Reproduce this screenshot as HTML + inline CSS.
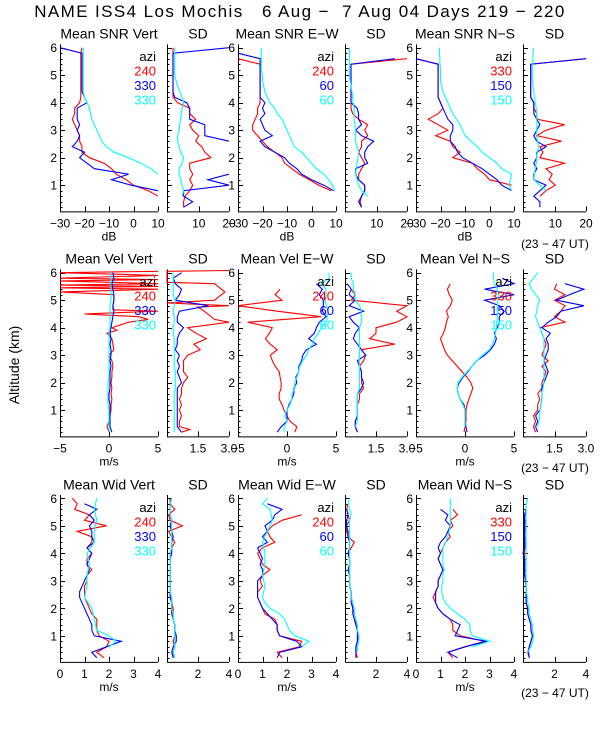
<!DOCTYPE html>
<html><head><meta charset="utf-8">
<style>
html,body{margin:0;padding:0;background:#fff;}
svg{display:block;font-family:"Liberation Sans",sans-serif;}
</style></head>
<body>
<svg id="chart" width="600" height="750" viewBox="0 0 600 750" xmlns="http://www.w3.org/2000/svg">
<rect x="0" y="0" width="600" height="750" fill="#fff"/>
<text x="300" y="17" font-size="17" letter-spacing="1.4" text-anchor="middle" xml:space="preserve">NAME ISS4 Los Mochis   6 Aug −  7 Aug 04 Days 219 − 220</text>
<text transform="translate(19,365) rotate(-90)" font-size="14" text-anchor="middle">Altitude (km)</text>
</svg>
<script>
const n = null;
const ALT = [0.2,0.4,0.6,0.8,1.0,1.2,1.4,1.6,1.8,2.0,2.2,2.4,2.6,2.8,3.0,3.2,3.4,3.6,3.8,4.0,4.2,4.4,4.6,4.8,5.0,5.2,5.4,5.6,5.8,6.0];

// Row 1: SNR
const snrVertRed  = [n,n,10,6,0,-3,-7,-9,-12,-18,-21,-21,-22,-22,-23,-24,-25,-24,-24,-22,-21.5,-21.5,-21.5,-21.5,-21.5,-21.5,-21.5,-21.5,-21.5,-21];
const snrVertBlue = [n,n,n,10,-1,-9,-2,-16,-19,-22,-20,-25,-23,-22,-23,-22,-23,-23,-23,-19,-20,-21,-21,-21,-21,-21,-21,-21,-21,-30];
const snrVertCyan = [n,n,n,n,n,n,10,7,3,-2,-8,-11,-13,-14,-15,-16,-17,-17.5,-18,-19,-20,-20.5,-20.5,-20.5,-20.5,-20.5,-20.5,-20.5,-20.5,-20.5];
const sdSnrVertRed  = [5,5,5.5,7,8,7,8,7,7,14,12,11,9,10,8,7,9,7,7,3,1.5,1.5,1.5,1.5,1.5,1.5,1.5,1.5,1.5,1.5];
const sdSnrVertBlue = [5,8,5,5,20,13,20,n,n,n,n,n,20,12,12,12,7,7,7,6,2,1.5,1.5,1.5,1.5,1.5,1.5,1.5,1.5,20];
const sdSnrVertCyan = [n,n,4.5,5,4.5,4,3.5,3.5,4.5,5,4,3.5,3,3,3.5,3.7,4,4.2,4.5,5,4.5,3.8,3,2.5,2,2,2,2,2,2];
const snrEwRed  = [n,n,n,8,3,-1,-5,-8,-11,-12,-15,-18,-20,-22,-24,-24,-23,-22,-22,-21,-21,-21,-21,-21,-21,-21,-21,-30,n,n];
const snrEwBlue = [n,n,n,9,5,0,-4,-6,-9,-11,-15,-19,-21,-16,-19,-20,-21,-19,-20,-19,-21,-21,-21,-21,-21,-21,-21,-21,-30,n];
const snrEwCyan = [n,n,n,9.5,8.5,7,5,2,0,-2,-4,-7,-8,-9,-10,-11,-12,-14,-15,-17,-18,-19,-19.5,-20,-20,-20.5,-20.5,-20.5,-20.5,-20.5];
const sdSnrEwRed  = [5,4.5,5,6,6,4,4,5,6,5,4,5,5,7,6,7,4,2,1.5,1.5,1.5,1.5,1.5,1.5,1.5,1.5,1.5,20,n,n];
const sdSnrEwBlue = [5,4,5,6,6,4,3,3,7,6,6,7,9,5,3,5,4,4,3.5,1.5,1.5,1.5,1.5,1.5,1.5,1.5,1.5,16,n,n];
const sdSnrEwCyan = [n,n,7,5,4,3.5,3,3.2,3.5,3.8,4,3.5,3,3,3,2.8,2.5,2.5,2.5,2.2,2,1.8,1.5,1.2,1,1,1,1,1,1];
const snrNsRed  = [n,n,n,n,9,0,-2,-5,-7,-15,-12,-15,-16,-22,-17,-21,-25,-21,-19,-20,-21,-21,-21,-21,-21,-21,-21,-30,n,n];
const snrNsBlue = [n,n,n,9,5,3,0,-3,-7,-11,-13,-14,-16,-16,-15,-15,-17,-18,-19,-20,-21,-21,-21,-21,-21,-21,-21,-30,n,n];
const snrNsCyan = [n,n,n,9,8,8.5,9,5,3,0,-3,-5,-7.5,-10,-11,-12,-13.5,-15,-16,-17,-18,-19,-19.5,-20,-20,-20,-20.2,-20.3,-20.4,-20.5];
const sdSnrNsRed  = [n,n,5,7,10,8,9,7,13,5,6,5,12,4,7,13,4,4,3,3,2,2,2,2,2,2,2,20,n,n];
const sdSnrNsBlue = [5,5,3,5,7,3,3,4,3,4,4,7,4,3,4,5,4,3,3,3,2,2,2,2,2,2,2,20,n,n];
const sdSnrNsCyan = [n,n,n,7,5,3,3.2,3.5,3.8,4,4.2,4.5,4.2,4,4,4,4,4,3.8,3.5,3.2,3,2.8,2.6,2.5,2.5,2.6,2.7,2.8,3];

// Row 2: velocity
const velVertRedAlt = [0.2,0.4,0.6,0.8,1.0,1.2,1.4,1.6,1.8,2.0,2.2,2.4,2.6,2.8,3.0,3.2,3.4,3.6,3.8,3.9,4.0,4.2,4.3,4.4,4.5,4.6,4.65,4.8,5.0,5.2,5.3,5.4,5.45,5.5,5.55,5.6,5.7,5.75,5.8,5.9,6.0,6.05];
const velVertRed = [0,-0.2,0,0.1,0.2,0.2,0.3,0.2,0.3,0.2,0.3,0.3,0.4,0.3,0,0.5,0.4,0.3,-0.2,0.8,0.3,2,4,3,-2.5,5,0.4,0.4,0.5,0.5,-5,5,-5,5,-5,5,-5,5,-5,5,-5,5];
const velVertBlue = [0.3,0.1,0.1,0.1,0.1,0.1,0,0,0.1,0.1,0.1,0.1,0.2,0.1,0.2,0.2,0.1,0.2,0.1,0.2,0.3,0.4,0.5,0.4,0.5,0.5,0.4,0.3,0.5,0.4];
const velVertCyan = [0,0,0,0,0,-0.1,-0.1,-0.1,-0.1,-0.1,0,0,0,0,0,0,0,0,0,0.1,0.1,0.1,0.1,0.1,0.2,0.2,0.2,0.2,0.2,0.1];
const sdVelVertRedAlt = [0.2,0.3,0.4,0.6,0.8,1.0,1.2,1.4,1.6,1.8,2.0,2.2,2.4,2.6,2.8,3.0,3.2,3.4,3.6,3.8,4.0,4.2,4.3,4.6,4.75,4.8,4.9,5.0,5.3,5.6,5.65,6.05,6.08];
const sdVelVertRed = [0.7,1.1,0.6,0.6,0.7,0.6,0.7,0.6,0.7,0.7,0.8,1.0,0.8,0.8,0.8,1.0,1.6,1.3,1.9,1.4,1.0,3,2.3,1.8,1.5,3,0,2.3,2.8,2.3,0,0,3];
const sdVelVertBlue = [0.7,0.5,0.5,0.5,0.5,0.5,0.5,0.5,0.5,0.7,0.6,0.5,0.6,0.5,0.6,0.4,0.5,0.5,0.6,0.8,0.5,0.5,0.6,2,0.4,0.6,0.7,0.4,0.3,0.7];
const sdVelVertCyan = [0.35,0.35,0.35,0.35,0.35,0.35,0.35,0.35,0.4,0.4,0.4,0.4,0.35,0.35,0.35,0.35,0.35,0.35,0.3,0.3,0.35,0.35,0.3,0.35,0.4,0.3,0.3,0.3,0.3,0.3];
const velEwRed  = [0.8,1.0,0.3,0,-0.3,-0.5,-0.8,-0.8,-0.6,-0.6,-0.7,-0.8,-1.2,-1.5,-1.7,-1.0,-1.7,-2.2,-1.8,-1.5,-4,3.5,-1,-5,-0.5,-1.2,-0.7,n,n,n];
const velEwBlue = [-1.0,-0.6,0,0,0,0.2,0.5,0.7,0.7,1.0,0.9,1.2,1.2,1.5,1.6,2,3.0,2.2,2.8,3.0,3.3,4,3.6,3.7,3.7,3.3,3.6,3.0,n,n];
const velEwCyan = [-0.3,-0.3,0,-0.2,0,0.3,0.5,0.5,0.8,0.8,1.0,1.2,1.3,1.6,2,2.2,2.6,2.8,3.2,3.5,4,4.1,4.2,4.0,3.9,4.0,4.0,3.5,4.3,4.3];
const sdVelEwRed  = [0.6,0.5,0.5,0.6,0.6,0.6,0.7,0.7,0.9,0.8,0.8,0.8,0.7,0.9,1.0,0.8,2.4,1.2,1.5,1.5,2.5,3.0,2.5,3.0,0.3,0.5,0.3,n,n,n];
const sdVelEwBlue = [0.6,0.5,0.5,0.6,0.6,0.6,0.6,0.6,0.8,0.9,0.8,0.8,0.7,0.6,1.0,0.8,0.6,0.4,0.5,0.7,0.4,0.2,0.9,0.2,0.5,0.2,0.3,0.1,n,n];
const sdVelEwCyan = [n,0.5,0.6,0.6,0.6,0.6,0.6,0.6,0.7,0.7,0.7,0.7,0.7,0.7,0.7,0.7,0.7,0.7,0.7,0.7,0.8,0.8,0.8,0.7,0.5,0.5,0.4,0.4,0.3,0.3];
const velNsRed  = [-0.1,0,0.1,0.1,0.1,0.2,0.4,0.6,0.8,0.6,0.2,-0.3,-0.8,-1.3,-1.8,-2.1,-2.3,-2.5,-2.2,-2.0,-1.9,-1.7,-1.9,-1.5,-1.3,-1.6,-1.8,-1.5,n,n];
const velNsBlue = [0.2,0.1,0,0,0,-0.1,-0.5,-0.7,-0.8,-0.6,-0.2,0.3,0.7,1.2,2,2.6,3.0,3.2,3.0,3.3,3.5,3.5,4.0,3.5,2,5,2,5,3.8,n];
const velNsCyan = [n,0,0,0,0,-0.2,-0.5,-0.7,-0.8,-0.7,-0.3,0.2,0.7,1.2,1.8,2.5,2.8,3,3.1,3.2,3.25,3.3,3.3,3.3,3.35,3.4,3.3,3.0,2.9,2.9];
const sdVelNsRed  = [0.6,0.5,0.6,0.5,0.7,0.7,0.8,0.7,0.9,0.9,1.0,1.1,0.9,1.2,0.9,1.0,1.1,1.0,0.9,0.8,2.0,1.5,1.8,2.0,1.5,2.0,1.5,1.6,n,n];
const sdVelNsBlue = [0.7,0.6,0.7,0.6,0.8,0.85,0.9,0.9,0.9,1.0,1.1,1.2,1.1,1.0,1.1,1.2,1.2,1.1,1.3,0.9,1.2,1.6,1.8,2.9,1.6,2.2,2.9,2.0,n,n];
const sdVelNsCyan = [n,0.7,0.75,0.8,0.8,0.85,0.9,0.9,0.95,1.0,1.0,1.0,1.0,1.0,1.0,1.0,1.0,1.0,0.9,0.8,0.7,0.6,0.65,0.7,0.8,0.6,0.4,0.3,0.5,0.7];

// Row 3: width
const widVertRed  = [1.8,1.5,1.9,2.0,1.6,1.5,1.5,1.5,1.3,1.2,1.1,1.0,1.0,1.0,1.1,1.1,1.3,1.1,1.1,1.3,1.1,1.3,1.3,0.7,1.9,1.0,1.2,0.6,0.7,0.5];
const widVertBlue = [1.5,1.3,1.9,2.5,1.4,1.3,1.3,1.2,1.1,1.0,0.9,0.8,0.8,0.9,1.0,1.1,1.2,1.1,1.2,1.3,1.1,1.4,1.3,1.3,1.2,1.4,1.2,1.5,1.0,n];
const widVertCyan = [n,n,2.0,2.3,2.0,1.5,1.45,1.4,1.35,1.3,1.15,1.0,1.05,1.1,1.1,1.1,1.15,1.2,1.15,1.1,1.25,1.4,1.4,1.4,1.45,1.5,1.45,1.4,1.45,1.5];
const sdWidVertRed  = [0.4,0.4,0.5,0.4,0.5,0.5,0.5,0.4,0.4,0.4,0.3,0.3,0.2,0.2,0.2,0.2,0.2,0.2,0.2,0.2,0.3,0.5,0.3,0.1,1.0,0.2,0.1,0.5,0.2,0.2];
const sdWidVertBlue = [0.4,0.3,0.4,0.6,0.6,0.5,0.5,0.4,0.3,0.3,0.3,0.2,0.2,0.2,0.2,0.2,0.2,0.2,0.2,0.3,0.3,0.3,0.4,0.3,0.2,0.3,0.2,0.2,0.2,0.3];
const sdWidVertCyan = [0.5,0.4,0.5,0.5,0.5,0.5,0.5,0.4,0.4,0.3,0.3,0.3,0.2,0.2,0.2,0.2,0.2,0.2,0.2,0.2,0.3,0.3,0.3,0.3,0.3,0.3,0.2,0.2,0.2,0.3];
const widEwRed  = [1.8,1.6,2.5,2.6,1.7,1.6,1.6,1.5,1.1,1.0,0.9,0.8,0.8,1.0,0.9,1.0,1.3,1.0,0.9,0.8,1.0,1.5,1.3,1.2,1.4,1.8,2.6,n,n,n];
const widEwBlue = [1.6,1.7,2.6,2.4,1.7,1.6,1.6,1.4,1.2,1.0,0.9,0.8,0.8,0.8,0.8,1.0,1.0,0.9,1.0,0.9,0.8,1.2,1.0,1.2,1.1,1.4,1.5,1.8,1.2,n];
const widEwCyan = [n,n,2.6,2.9,2.3,2.1,2.0,1.9,1.7,1.3,1.1,1.0,1.05,1.1,1.05,1.0,1.05,1.1,1.1,1.1,1.05,1.0,1.1,1.2,1.3,1.4,1.35,1.3,1.0,1.2];
const sdWidEwRed  = [0.8,0.7,0.7,0.8,0.9,0.8,0.7,0.7,0.6,0.5,0.5,0.4,0.4,0.3,0.3,0.3,0.3,0.3,0.3,0.2,0.4,0.6,0.2,0.1,0.1,0.3,0.2,0.1,0.2,n];
const sdWidEwBlue = [0.7,0.7,0.7,0.8,0.8,0.8,0.7,0.6,0.5,0.5,0.4,0.4,0.4,0.3,0.3,0.3,0.2,0.3,0.3,0.2,0.3,0.3,0.2,0.2,0.1,0.1,0.2,0.1,n,n];
const sdWidEwCyan = [n,0.8,0.8,0.9,0.9,0.8,0.8,0.7,0.6,0.6,0.5,0.4,0.4,0.3,0.3,0.3,0.3,0.3,0.3,0.3,0.3,0.3,0.3,0.3,0.3,0.3,0.4,0.3,0.2,0.3];
const widNsRed  = [1.5,1.3,2.0,2.8,1.8,1.5,1.5,1.4,1.1,0.9,0.8,0.7,0.8,0.9,0.9,1.0,1.1,1.0,0.9,1.0,1.1,1.2,1.4,1.3,1.5,1.4,1.7,1.5,n,n];
const widNsBlue = [1.7,1.3,2.0,2.9,1.6,1.7,1.8,1.4,1.1,0.9,0.8,0.8,0.8,0.9,0.9,1.0,1.1,1.0,0.9,1.0,0.9,1.0,1.2,1.3,1.4,1.2,1.3,1.0,n,n];
const widNsCyan = [n,n,2.3,3.0,2.3,2.2,2.2,2.0,1.7,1.4,1.2,1.1,1.05,1.05,1.1,1.1,1.15,1.1,1.1,1.1,1.1,1.2,1.3,1.35,1.4,1.4,1.4,1.4,1.4,1.4];
const sdWidNsRed  = [0.4,0.3,0.4,0.5,0.6,0.5,0.5,0.4,0.3,0.3,0.2,0.2,0.2,0.2,0.2,0.1,0.1,0.1,0.1,0.1,0.1,0.2,0.1,0.1,0.2,0.1,0.1,0.2,n,n];
const sdWidNsBlue = [0.4,0.35,0.4,0.5,0.6,0.5,0.5,0.4,0.3,0.3,0.2,0.2,0.2,0.2,0.15,0.1,0.1,0.1,0.1,0.0,0.1,0.1,0.1,0.1,0.1,0.1,0.1,0.2,n,n];
const sdWidNsCyan = [n,0.3,0.5,0.6,0.7,0.6,0.6,0.5,0.4,0.4,0.3,0.3,0.2,0.2,0.2,0.2,0.2,0.2,0.2,0.2,0.2,0.2,0.2,0.2,0.2,0.2,0.2,0.2,0.2,0.3];

// Tick labels / legend labels
const snrTicks = [-30,-20,-10,0,10];
const sdSnrTicks = [10,20];
const velTicks = [-5,0,5];
const sdVelTicks = [1.5,3.0];
const widTicks = [0,1,2,3,4];
const sdWidTicks = [2,4];
const altTicks = [1,2,3,4,5,6];
const aziVert = ['240','330','330'];
const aziEw = ['240','60','60'];
const aziNs = ['330','150','150'];

const svg = document.getElementById('chart');
const NS = 'http://www.w3.org/2000/svg';
const COL = ['#ff0000','#0000ff','#00ffff'];
const MAINX = [[60,158],[238,336],[416,514]];
const SDX = [[167,229],[345,407],[523,586]];
const Y6 = [47.7,272.7,498.3];
const KM = 27.5;

function mk(tag, attrs){
  const e = document.createElementNS(NS, tag);
  for (const k in attrs) e.setAttribute(k, attrs[k]);
  svg.appendChild(e);
  return e;
}
function yScale(row){ return a => Y6[row] + (6 - a) * KM; }
function xScale(px, dom){ return v => px[0] + (v - dom[0]) / (dom[1] - dom[0]) * (px[1] - px[0]); }

function drawAxes(px, row, dom, ticks, fmt, showY, unit, name){
  const y = yScale(row);
  const yb = y(0.05), yt = y(6.12);
  const ax = mk('path', {d:`M${px[0]+0.5},${yt}V${yb+0.5}H${px[1]}`, stroke:'#000', fill:'none', 'stroke-width':1});
  
  
  let d = '';
  for (let a = 0.2; a < 6.11; a += 0.2) {
    const yy = Math.round(y(a)) + 0.5;
    const major = Math.abs(a - Math.round(a)) < 0.01;
    d += `M${px[0]},${yy}h${major ? 5 : 2.5}`;
  }
  const xs = xScale(px, dom);
  ticks.forEach(t => { const xx = Math.round(xs(t)) + 0.5; d += `M${xx},${yb}v-5`; });
  const tk = mk('path', {d, stroke:'#000', 'stroke-width':1, fill:'none'});
  
  
  ticks.forEach(t => {
    const tx = mk('text', {x: xs(t), y: yb + 16, 'font-size': 12, 'text-anchor': 'middle'});
    tx.textContent = fmt(t);
    
    
  });
  if (showY) {
    altTicks.forEach(a => {
      const tx = mk('text', {x: px[0] - 3, y: y(a) + 4.5, 'font-size': 12, 'text-anchor': 'end'});
      tx.textContent = a;
      
      
    });
  }
  if (unit) {
    const u = mk('text', {x: (px[0] + px[1]) / 2, y: yb + 29, 'font-size': 12, 'text-anchor': 'middle'});
    u.textContent = unit;
    
    
  }
}
function drawTitle(px, row, txt){
  const t = mk('text', {x: (px[0] + px[1]) / 2, y: Y6[row] - 9, 'font-size': 14, 'text-anchor': 'middle'});
  t.textContent = txt;
  
  
}
function drawSeries(px, row, dom, alts, vals, ci, name){
  const xs = xScale(px, dom), y = yScale(row);
  let d = '', pen = false;
  for (let i = 0; i < vals.length; i++) {
    if (vals[i] === null || vals[i] === undefined) { pen = false; continue; }
    const X = xs(vals[i]).toFixed(1), Y = y(alts[i]).toFixed(1);
    d += (pen ? 'L' : 'M') + X + ',' + Y;
    pen = true;
  }
  const p = mk('path', {d, stroke: COL[ci], fill: 'none', 'stroke-width': 1.1});
  
  
}
function drawLegend(px, row, labels){
  const base = Y6[row];
  const a = mk('text', {x: px[1] - 2, y: base + 13.5, 'font-size': 13, 'text-anchor': 'end'});
  a.textContent = 'azi';
  
  
  labels.forEach((l, i) => {
    const t = mk('text', {x: px[1] - 2, y: base + 28 + i * 14.5, 'font-size': 13, 'text-anchor': 'end', fill: COL[i]});
    t.textContent = l;
    
    
  });
}
function utLabel(row){
  const t = mk('text', {x: 555, y: [248, 472, 697][row], 'font-size': 12, 'text-anchor': 'middle'});
  t.textContent = '(23 − 47 UT)';
  
  
}
const neg = v => (v < 0 ? '−' + Math.abs(v) : '' + v);
const f1 = v => v.toFixed(1);
const f0 = v => '' + v;

function panelSet(row, col, title, dom, ticks, fmt, unit, sdDom, sdTicks, sdFmt, series, sdSeries, azi){
  const px = MAINX[col], sx = SDX[col];
  drawTitle(px, row, title);
  drawTitle(sx, row, 'SD');
  drawAxes(px, row, dom, ticks, fmt, true, unit, 'main-panel');
  drawAxes(sx, row, sdDom, sdTicks, sdFmt, false, null, 'sd-panel');
  series.forEach((s, i) => drawSeries(px, row, dom, s[0], s[1], i, 'mean-line-' + azi[i]));
  sdSeries.forEach((s, i) => drawSeries(sx, row, sdDom, s[0], s[1], i, 'sd-line-' + azi[i]));
  drawLegend(px, row, azi);
}

// Row 1
panelSet(0,0,'Mean SNR Vert',[-30,10],snrTicks,neg,'dB',[-0.5,20],sdSnrTicks,f0,
  [[ALT,snrVertRed],[ALT,snrVertBlue],[ALT,snrVertCyan]],[[ALT,sdSnrVertRed],[ALT,sdSnrVertBlue],[ALT,sdSnrVertCyan]],aziVert);
panelSet(0,1,'Mean SNR E−W',[-30,10],snrTicks,neg,'dB',[-0.5,20],sdSnrTicks,f0,
  [[ALT,snrEwRed],[ALT,snrEwBlue],[ALT,snrEwCyan]],[[ALT,sdSnrEwRed],[ALT,sdSnrEwBlue],[ALT,sdSnrEwCyan]],aziEw);
panelSet(0,2,'Mean SNR N−S',[-30,10],snrTicks,neg,'dB',[-0.5,20],sdSnrTicks,f0,
  [[ALT,snrNsRed],[ALT,snrNsBlue],[ALT,snrNsCyan]],[[ALT,sdSnrNsRed],[ALT,sdSnrNsBlue],[ALT,sdSnrNsCyan]],aziNs);
// Row 2
panelSet(1,0,'Mean Vel Vert',[-5,5],velTicks,neg,'m/s',[0,3],sdVelTicks,f1,
  [[velVertRedAlt,velVertRed],[ALT,velVertBlue],[ALT,velVertCyan]],[[sdVelVertRedAlt,sdVelVertRed],[ALT,sdVelVertBlue],[ALT,sdVelVertCyan]],aziVert);
panelSet(1,1,'Mean Vel E−W',[-5,5],velTicks,neg,'m/s',[0,3],sdVelTicks,f1,
  [[ALT,velEwRed],[ALT,velEwBlue],[ALT,velEwCyan]],[[ALT,sdVelEwRed],[ALT,sdVelEwBlue],[ALT,sdVelEwCyan]],aziEw);
panelSet(1,2,'Mean Vel N−S',[-5,5],velTicks,neg,'m/s',[0,3],sdVelTicks,f1,
  [[ALT,velNsRed],[ALT,velNsBlue],[ALT,velNsCyan]],[[ALT,sdVelNsRed],[ALT,sdVelNsBlue],[ALT,sdVelNsCyan]],aziNs);
// Row 3
panelSet(2,0,'Mean Wid Vert',[0,4],widTicks,f0,'m/s',[0,4],sdWidTicks,f0,
  [[ALT,widVertRed],[ALT,widVertBlue],[ALT,widVertCyan]],[[ALT,sdWidVertRed],[ALT,sdWidVertBlue],[ALT,sdWidVertCyan]],aziVert);
panelSet(2,1,'Mean Wid E−W',[0,4],widTicks,f0,'m/s',[0,4],sdWidTicks,f0,
  [[ALT,widEwRed],[ALT,widEwBlue],[ALT,widEwCyan]],[[ALT,sdWidEwRed],[ALT,sdWidEwBlue],[ALT,sdWidEwCyan]],aziEw);
panelSet(2,2,'Mean Wid N−S',[0,4],widTicks,f0,'m/s',[0,4],sdWidTicks,f0,
  [[ALT,widNsRed],[ALT,widNsBlue],[ALT,widNsCyan]],[[ALT,sdWidNsRed],[ALT,sdWidNsBlue],[ALT,sdWidNsCyan]],aziNs);

utLabel(0); utLabel(1); utLabel(2);
</script>
</body></html>
